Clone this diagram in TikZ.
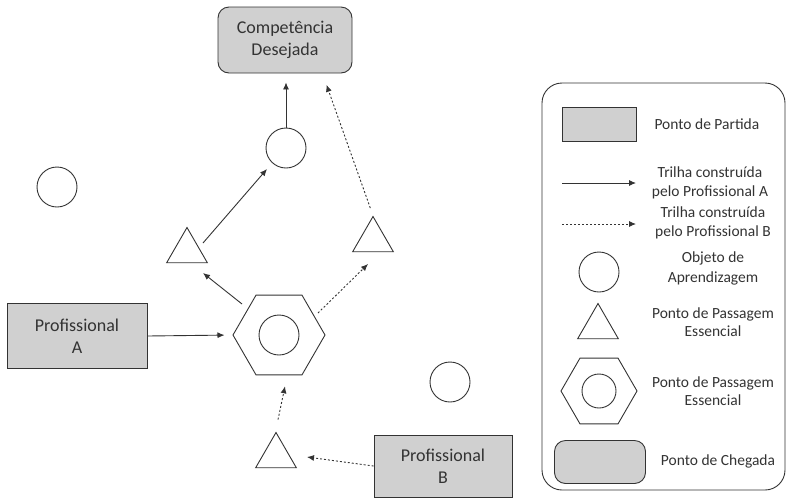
\documentclass[tikz,border=0pt]{standalone}
\usepackage{fontspec}
\setmainfont{Carlito}
\usetikzlibrary{arrows.meta, shapes.geometric, calc}
\definecolor{boxgray}{RGB}{208,208,208}
\definecolor{inkgray}{RGB}{51,51,51}

\begin{document}
\begin{tikzpicture}[x=1pt, y=-1pt,
  every node/.style={text=inkgray},
  shapebox/.style={draw=inkgray, line width=0.9pt},
  startbox/.style={shapebox, fill=boxgray, minimum width=140pt, minimum height=65pt, align=center, font=\fontsize{18}{22}\selectfont},
  goalbox/.style={startbox, rounded corners=11pt, minimum width=134pt, minimum height=66pt},
  objcircle/.style={shapebox, circle, minimum size=40pt, inner sep=0pt},
  passtri/.style={shapebox, regular polygon, regular polygon sides=3, minimum size=47pt, inner sep=0pt},
  hexnode/.style={shapebox, regular polygon, regular polygon sides=6, minimum size=92pt, inner sep=0pt,
    path picture={\draw[inkgray, line width=0.9pt] (path picture bounding box.center) circle (#1);}},
  legframe/.style={shapebox, rounded corners=20pt, minimum width=243pt, minimum height=407pt},
  trailA/.style={draw=inkgray, line width=0.9pt, -{Latex[length=7pt, width=6pt]}},
  trailB/.style={trailA, dash pattern=on 2pt off 2pt},
  legtext/.style={font=\fontsize{15.5}{18.5}\selectfont, align=center},
]
\useasboundingbox (0,0) rectangle (790,499);

% Main trail
\node[goalbox] (goal) at (285,40) {Competência\\Desejada};
\node[objcircle] (obj1) at (286,148) {};
\node[objcircle] (obj2) at (57,187) {};
\node[objcircle] (obj3) at (450,382) {};
\node[passtri] (triL) at (187,251) {};
\node[passtri] (triR) at (373,240) {};
\node[passtri] (triB) at (276,456) {};
\node[hexnode=20pt] (hex) at (279,335) {};
\node[startbox] (profA) at (77,336) {Profissional\\A};
\node[startbox, minimum width=138pt, minimum height=62pt] (profB) at (443,466) {Profissional\\B};

% Trail of A
\draw[trailA, shorten >=8pt] (profA.east) -- (hex.west);
\draw[trailA] ($(hex)+(-37,-31)$) -- ($(triL)+(16,22)$);
\draw[trailA] ($(triL)+(16,-8)$) -- ($(obj1)+(-19,21)$);
\draw[trailA, shorten >=9pt] (obj1.north) -- (obj1.north |- goal.south);

% Trail of B
\draw[trailB] (profB.west) -- ($(triB)+(31,1)$);
\draw[trailB] ($(triB.north)+(2,-12)$) -- ($(hex.south)+(6,11)$);
\draw[trailB] ($(hex)+(39,-22)$) -- ($(triR)+(-5,24)$);
\draw[trailB, shorten <=8pt, shorten >=12pt] (triR.north) -- ([xshift=-30pt]goal.south east);

% Legend
\node[legframe] (legend) at (663.5,286.5) {};
\node[startbox, minimum width=74pt, minimum height=34pt] (keystart) at (599,124) {};
\node[legtext, anchor=west] (keystartlbl) at (651,124) {Ponto de Partida};
\coordinate (keyAfrom) at (562,183);
\coordinate (keyAto) at (636,183);
\draw[trailA] (keyAfrom) -- (keyAto);
\node[legtext] (keyAlbl) at (710,183) {Trilha construída\\pelo Profissional A};
\coordinate (keyBfrom) at (562,224);
\coordinate (keyBto) at (636,224);
\draw[trailB] (keyBfrom) -- (keyBto);
\node[legtext] (keyBlbl) at (713,223) {Trilha construída\\pelo Profissional B};
\node[objcircle] (keyobj) at (599,272) {};
\node[legtext, font=\fontsize{15.5}{20}\selectfont] (keyobjlbl) at (713,268) {Objeto de\\Aprendizagem};
\node[passtri] (keytri) at (598,327) {};
\node[legtext] (keytrilbl) at (713,322) {Ponto de Passagem\\Essencial};
\node[hexnode=17pt, minimum size=76pt] (keyhex) at (599,391) {};
\node[legtext] (keyhexlbl) at (713,391) {Ponto de Passagem\\Essencial};
\node[goalbox, minimum width=91pt, minimum height=43pt] (keygoal) at (600,462) {};
\node[legtext] (keygoallbl) at (718,461) {Ponto de Chegada};
\end{tikzpicture}
\end{document}
